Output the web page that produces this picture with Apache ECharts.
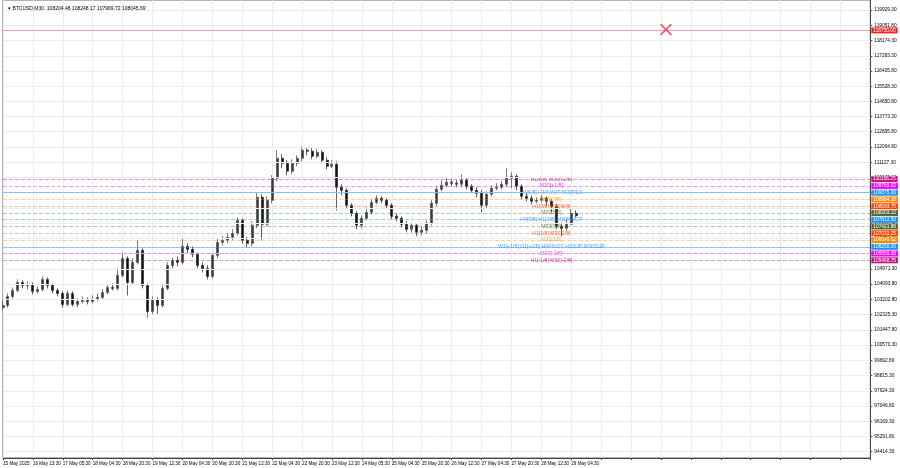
<!DOCTYPE html>
<html>
<head>
<meta charset="utf-8">
<script src="https://cdn.jsdelivr.net/npm/echarts@6/dist/echarts.min.js"></script>
<style>html,body{margin:0;padding:0;background:#fff}#c{width:900px;height:468px}</style>
</head>
<body>
<div id="c"></div>
<script>
// ---- data (M30 BTCUSD, 5px slots) ----
const tickLabels = ['15 May 2025','16 May 13:30','17 May 05:30','18 May 04:30','18 May 20:30','19 May 12:30','20 May 04:30','20 May 20:30','21 May 12:30','22 May 04:30','22 May 20:30','23 May 12:30','24 May 05:30','25 May 04:30','25 May 20:30','26 May 12:30','27 May 04:30','27 May 20:30','28 May 12:30','29 May 04:30'];
const priceTicks = [119929.30,119051.80,118174.30,117283.30,116405.80,115528.30,114650.80,113773.30,112895.80,112004.80,111127.30,110249.80,109372.30,108481.30,107603.80,106726.30,105848.80,104971.30,104093.80,103202.80,102325.30,101447.80,100570.30,99692.80,98815.30,97924.30,97046.80,96169.30,95291.80,94414.30];
const opens = [102745,102861,103382,103729,104192,104018,104076,103671,103787,104365,
104018,103729,103555,102919,103555,102919,103092,103150,103092,103208,
103324,103613,103902,103845,104597,105580,104192,105349,106043,104018,
102514,103208,102861,103845,105175,105464,105349,106275,106101,105812,
105175,105002,104539,105754,106506,106622,106795,107027,107779,106622,
106448,107490,109110,107547,108936,110209,111366,111077,110614,111077,
111366,111829,111771,111482,111713,111250,110903,111019,109688,109515,
108647,108184,107490,107895,108242,108820,109052,108936,108647,108010,
107895,107547,107258,107490,107085,107200,107605,108762,109572,109804,
109977,109920,109862,110093,109746,109515,109341,108647,109283,109630,
109688,109862,110209,110325,109746,109167,109052,108878,108936,109052,
108878,108589,107432,107316,107547,108184];
const closes = [102861,103382,103729,104192,104018,104076,103671,103787,104365,104018,
103729,103555,102919,103555,102919,103092,103150,103092,103208,103324,
103613,103902,103845,104597,105580,104192,105349,106043,104018,102514,
103208,102861,103845,105175,105464,105349,106275,106101,105812,105175,
105002,104539,105754,106506,106622,106795,107027,107779,106622,106448,
107490,109110,107547,108936,110209,111366,111077,110614,111077,111366,
111829,111771,111482,111713,111250,110903,111019,109688,109515,108647,
108184,107490,107895,108242,108820,109052,108936,108647,108010,107895,
107547,107258,107490,107085,107200,107605,108762,109572,109804,109977,
109920,109862,110093,109746,109515,109341,108647,109283,109630,109688,
109862,110209,110325,109746,109167,109052,108878,108936,109052,108878,
108589,107432,107316,107547,108184,108046];
const highs = [103150,103555,103902,104365,104307,104250,104192,103960,104539,104481,
104134,103845,103671,103729,103671,103266,103382,103324,103439,103555,
103787,104076,104134,105002,105927,105696,105580,106622,106159,104134,
103382,103324,104018,105349,105638,105696,106737,106448,106275,105927,
105349,105175,105927,106737,106853,107027,107258,107952,107895,106795,
107721,109341,109283,109167,110383,111829,111598,111250,111308,111540,
112060,112003,111945,111887,111829,111424,111250,111192,109862,109630,
108762,108300,108068,108531,108994,109225,109167,109052,108762,108184,
108010,107721,107663,107605,107432,107779,108936,109746,110093,110209,
110151,110093,110440,110209,109862,109688,109515,109457,109804,109920,
110035,110788,110556,110440,109862,109341,109225,109110,109225,109167,
108994,108705,107663,107837,108473,108357];
const lows = [102572,102745,103266,103613,103845,103787,103497,103555,103671,103845,
103555,103382,102745,102803,102803,102745,102977,102919,102977,103092,
103208,103497,103729,103729,104481,103439,104076,105233,103845,102167,
102340,102340,102745,103729,105002,105117,105233,105870,105638,105002,
104770,104365,104423,105580,106332,106448,106622,106911,106448,106217,
106275,107316,106622,107432,108762,110035,110788,110383,110440,110903,
111192,111540,111308,111366,111077,110730,110788,108357,109225,108473,
108010,107258,107316,107779,108126,108705,108762,108473,107837,107721,
107374,107085,107085,106853,106911,107027,107490,108589,109457,109688,
109746,109688,109688,109572,109341,109110,108242,108473,109167,109515,
109572,109688,109630,109515,108994,108878,108705,108762,108820,108647,
108242,107258,106853,107142,107547,107952];
const levelPrices = [118750.00,110156.25,109765.62,109375.00,108984.38,108593.75,108203.12,107812.50,107421.88,107031.25,106640.62,106250.00,105859.38,105468.75];
const levelTexts = ['','H1[5/8] M30[+2/8]','M30[+1/8]','H4[6/8] H1PIVOT M30RES','M30[7/8]','H1[3/8] M30[6/8]','M30[5/8]','H4[5/8] H1[2/8] M30PIVOT','M30[3/8]','H1[1/8] M30[2/8]','M30[1/8]','W1[+1/8] D1[+1/8] H4PIVOT H1SUP M30SUP','M30[-1/8]','H1[-1/8] M30[-2/8]'];
const headerText = '\u25BE BTCUSD,M30  108204.48 108248.17 107969.72 108045.69';
const crossMark = [133, 118800];
const levelTextSlot = 110;

// ---- styles ----
const levelColors = ['#ff2020','#c71585','#ff00ff','#1e90ff','#ff8c00','#ff4500','#556b2f','#1e90ff','#556b2f','#ff4500','#ff8c00','#1e90ff','#ff00ff','#c71585'];
const levelLineColors = ['rgba(255,60,80,0.5)','rgba(199,21,133,0.45)','rgba(255,0,255,0.4)','rgba(30,144,255,0.5)','rgba(255,140,0,0.4)','rgba(255,69,0,0.35)','rgba(85,107,47,0.4)','rgba(30,144,255,0.45)','rgba(85,107,47,0.4)','rgba(255,69,0,0.35)','rgba(255,140,0,0.4)','rgba(30,144,255,0.5)','rgba(255,0,255,0.4)','rgba(199,21,133,0.45)'];
const levelLineTypes = ['solid','dashed','dashed','solid','dashed','dashed','dashed','dashed','dashed','dashed','dashed','solid','dashed','dashed'];
const FONT = 'Liberation Sans, Arial, sans-serif';
const SLOTS = 175;

const slots = [];
for (let i = 0; i < SLOTS; i++) slots.push(String(i));
const candles = opens.map((o, i) => [o, closes[i], lows[i], highs[i]]);

const gridLines = priceTicks.map(v => ({
  yAxis: v, label: {show: false},
  lineStyle: {color: '#ececec', type: 'solid', width: 1}
}));
const levelLines = levelPrices.map((v, i) => ({
  yAxis: v,
  lineStyle: {color: levelLineColors[i], type: levelLineTypes[i] === 'dashed' ? [4, 2] : 'solid', width: 1},
  label: {
    show: true, position: 'end', distance: 1,
    formatter: () => v.toFixed(2),
    backgroundColor: levelColors[i], color: '#fff',
    fontSize: 4.8, fontFamily: FONT, padding: [1, 2, 0, 2]
  }
}));
const textPoints = levelTexts.map((t, i) => ({
  value: [levelTextSlot, levelPrices[i]], name: t,
  label: {color: levelColors[i]}
})).filter(d => d.name);

const chart = echarts.init(document.getElementById('c'), null, {renderer: 'canvas'});
chart.setOption({
  animation: false,
  backgroundColor: '#fff',
  title: {
    text: headerText, left: 3, top: 1,
    textStyle: {fontSize: 5, fontWeight: 'normal', color: '#000', fontFamily: FONT}
  },
  grid: {left: 0, right: 28, top: 0, bottom: 10, show: true, borderColor: '#666', borderWidth: 1, backgroundColor: '#fff'},
  xAxis: {
    type: 'category', data: slots, boundaryGap: false,
    axisLine: {show: true, lineStyle: {color: '#444'}},
    axisTick: {show: true, interval: 5, length: 2, lineStyle: {color: '#444'}},
    axisLabel: {
      interval: 5, align: 'left', margin: 3, fontSize: 4.6, color: '#000', fontFamily: FONT,
      formatter: (v, i) => tickLabels[i / 6] || ''
    },
    splitLine: {show: true, interval: 5, lineStyle: {color: '#ececec', width: 1}}
  },
  yAxis: {
    type: 'value', position: 'right', min: 94048, max: 120507, scale: true,
    axisLine: {show: true, lineStyle: {color: '#444'}},
    axisTick: {show: true, length: 2, customValues: priceTicks, lineStyle: {color: '#444'}},
    axisLabel: {
      customValues: priceTicks, margin: 4, fontSize: 4.8, color: '#000', fontFamily: FONT,
      formatter: v => Number(v).toFixed(2)
    },
    splitLine: {show: false}
  },
  series: [
    {
      type: 'candlestick', data: candles, barWidth: 2.5,
      itemStyle: {color: '#3a3a3a', color0: '#111', borderColor: '#555', borderColor0: '#333', borderWidth: 0.8},
      markLine: {
        silent: true, symbol: ['none', 'none'], animation: false,
        data: gridLines.concat(levelLines)
      },
      z: 3
    },
    {
      type: 'scatter', data: textPoints, symbolSize: 0, silent: true, z: 4,
      label: {
        show: true, position: 'inside', formatter: p => p.name,
        fontSize: 5.2, fontFamily: FONT
      }
    },
    {
      type: 'scatter', data: [crossMark], silent: true, z: 5,
      symbol: 'path://M1,0L5,4L9,0L10,1L6,5L10,9L9,10L5,6L1,10L0,9L4,5L0,1Z',
      symbolSize: 12, itemStyle: {color: '#e8335a'}
    }
  ]
});
</script>
</body>
</html>
